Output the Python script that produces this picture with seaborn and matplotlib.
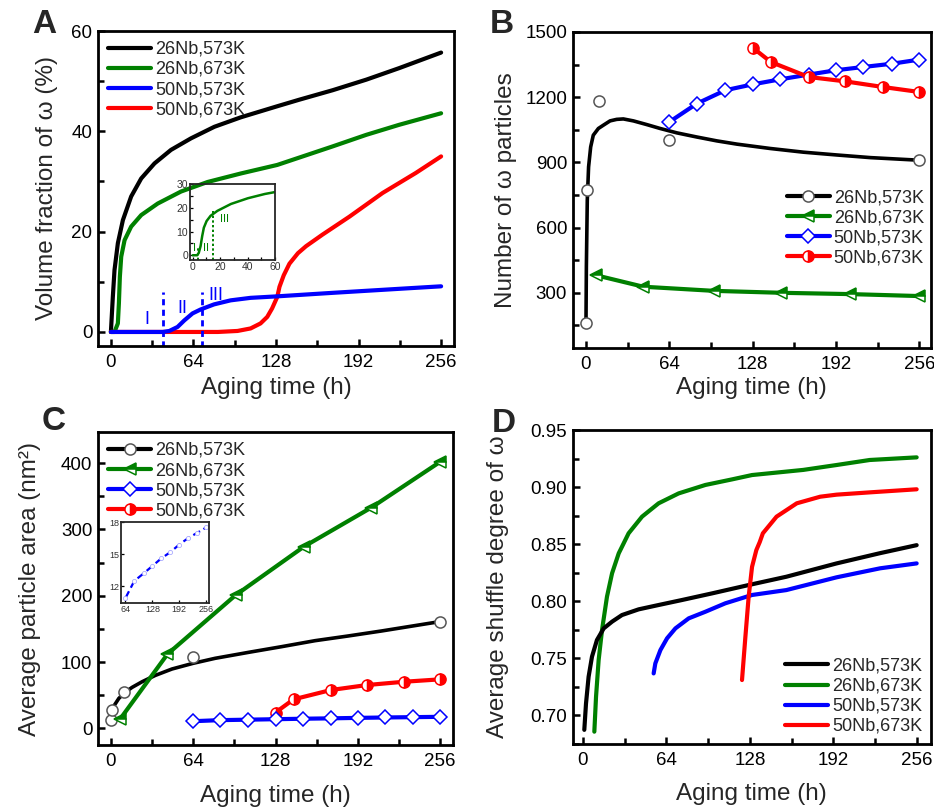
import numpy as np
import pandas as pd
import matplotlib
matplotlib.use("Agg")
import matplotlib.pyplot as plt
from matplotlib.lines import Line2D
from matplotlib.ticker import MultipleLocator, FormatStrFormatter
import seaborn as sns

sns.set_theme(style="ticks")
plt.rcParams["font.family"] = ["Liberation Sans", "DejaVu Sans"]

# ---------------- data ----------------
labels = ["26Nb,573K", "26Nb,673K", "50Nb,573K", "50Nb,673K"]
colors = ["#000000", "#008000", "#0000ff", "#ff0000"]

# (A) volume fraction of omega (%)
a_t_k26_573 = [0, 1.5, 2.8, 5.4, 9.3, 15.7, 23.5, 33.8, 46.6, 62.1, 80.2, 100.8, 129, 146, 172, 198, 223.5, 256]
a_v_k26_573 = [0, 7.0, 12.35, 17.7, 22.3, 27, 30.6, 33.6, 36.3, 38.6, 40.9, 42.8, 45, 46.3, 48.2, 50.3, 52.6, 55.7]
a_t_k26_673 = [0, 2.8, 5.4, 6.2, 6.95, 8.0, 10.6, 15.7, 23.5, 36.3, 54.4, 75, 100.8, 129, 172, 198, 223.5, 256]
a_v_k26_673 = [0, 0, 1.7, 5.7, 11, 15, 18.3, 21, 23.3, 25.6, 28, 29.9, 31.6, 33.3, 37, 39.3, 41.3, 43.6]
a_t_k50_573 = [0, 40.2, 45.3, 51.7, 56.9, 63.3, 69.7, 80, 92.8, 108.3, 129, 172, 223.5, 256]
a_v_k50_573 = [0, 0, 0.2, 1.0, 2.3, 3.7, 4.5, 5.5, 6.3, 6.8, 7.1, 7.8, 8.6, 9.1]
a_t_k50_673 = [0, 83, 98.2, 108.3, 116, 121.2, 125, 129, 130.7, 134, 138.4, 145, 151.3, 164, 185, 210.6, 236.4, 256]
a_v_k50_673 = [0, 0, 0.2, 0.7, 1.7, 3.0, 4.7, 7.0, 9.0, 11.3, 13.6, 15.7, 17.1, 19.4, 23, 27.7, 31.7, 35]
a_stage_x = [40.2, 70.4]
a_stage_top = 8.0
a_stage_text = [(27.8, 2.4, "I"), (55.7, 4.7, "II"), (81.5, 7.2, "III")]

# (A inset) 26Nb,673K early stage
ai_t = [0, 3.2, 4.4, 5.7, 6.9, 8.1, 10.1, 13, 18, 27.9, 40.2, 52.6, 60]
ai_v = [0, 0, 1.0, 3.8, 8.1, 11.6, 14.4, 16.6, 18.7, 21.6, 24, 25.8, 26.6]
ai_stage = [(3.9, 4.0), (14.9, 19.4)]
ai_stage_text = [(1.2, 3.1, "I"), (9.5, 3.0, "II"), (23.2, 15.2, "III")]

# (B) number of omega particles
b_pts_t_k26_573 = [0, 1, 10, 64, 256]
b_pts_v_k26_573 = [159, 775, 1183, 1002, 910]
b_fit_t_k26_573 = [0, 0.3, 1, 2, 3.6, 5.6, 9.5, 13.3, 18.5, 23.6, 28.7, 36.4, 46.7, 57, 69.7, 85,
                   100.5, 116, 141.5, 167, 193, 218.5, 256]
b_fit_v_k26_573 = [159, 420, 726, 879, 971, 1025, 1056, 1071, 1091, 1098, 1100, 1091, 1074, 1056, 1036, 1017,
                   999, 984, 964, 947, 934, 922, 910]
b_t_k26_673 = [7.5, 44, 98, 150, 203, 256]
b_v_k26_673 = [381, 328, 309, 300, 294, 285]
b_t_k50_573 = [64, 85, 107, 128, 149, 171, 192, 213, 235, 256]
b_v_k50_573 = [1086, 1170, 1232, 1259, 1282, 1304, 1324, 1339, 1354, 1373]
b_t_k50_673 = [128, 142, 171, 199, 228, 256]
b_v_k50_673 = [1428, 1362, 1293, 1273, 1247, 1224]

# (C) average particle area (nm^2)
c_pts_t_k26_573 = [0, 1, 10, 64, 256]
c_pts_v_k26_573 = [12, 28, 55, 107, 160]
c_fit_t_k26_573 = [1, 2.3, 6.2, 11.4, 16.5, 24.3, 34.6, 47.5, 63.8, 81, 107, 132.8, 158.7, 184.5, 210.3, 255.6]
c_fit_v_k26_573 = [29, 33.7, 45.3, 54.8, 61.9, 70.4, 80, 89.6, 98.1, 105.7, 114.7, 123.3, 132.3, 139.4, 146.9, 161]
c_t_k26_673 = [7, 44, 97, 150, 202.5, 256]
c_v_k26_673 = [13.6, 112, 201, 274, 333, 402]
c_t_k50_573 = [64, 85, 107, 128, 149, 171, 192, 213, 235, 256]
c_v_k50_573 = [10.9, 12.5, 13.2, 13.9, 14.6, 15.2, 15.9, 16.5, 17.0, 17.5]
c_t_k50_673 = [128, 142, 171, 199, 228, 256]
c_v_k50_673 = [24, 43.8, 57.9, 65.4, 70.4, 74]

# (D) average shuffle degree of omega
d_t_k26_573 = [1.0, 2.3, 4.3, 6.9, 10.7, 15.9, 22.3, 29.9, 42.7, 58, 76, 99, 127, 156, 194.6, 228, 256]
d_v_k26_573 = [0.687, 0.710, 0.7336, 0.7512, 0.7658, 0.776, 0.7819, 0.7877, 0.7927, 0.7965, 0.8009, 0.8067,
               0.814, 0.8213, 0.833, 0.842, 0.849]
d_t_k26_673 = [8.7, 10, 12, 14.6, 18.4, 22.3, 27.4, 35, 45.3, 58, 73.4, 93.9, 114.4, 129.7, 169, 194.6, 220, 256]
d_v_k26_673 = [0.6854, 0.716, 0.7482, 0.7746, 0.8038, 0.8243, 0.8418, 0.8594, 0.874, 0.8857, 0.8944, 0.9018,
               0.9067, 0.9105, 0.915, 0.9193, 0.9237, 0.926]
d_t_k50_573 = [54.2, 55.5, 59.4, 64.5, 70.9, 81.1, 93.9, 109.2, 129.7, 156, 194.6, 228, 256]
d_v_k50_573 = [0.7365, 0.7453, 0.757, 0.7673, 0.776, 0.7848, 0.7906, 0.798, 0.8053, 0.8096, 0.8208, 0.8287, 0.833]
d_t_k50_673 = [122, 124.6, 127.1, 129.7, 133, 135.6, 138, 148.5, 164, 182, 194.6, 220, 256]
d_v_k50_673 = [0.7307, 0.7687, 0.8038, 0.830, 0.8447, 0.8517, 0.8594, 0.874, 0.8857, 0.8915, 0.8933, 0.8953, 0.898]

x_ticks = [0, 64, 128, 192, 256]

# ---------------- figure ----------------
W, H = 934, 810
fig = plt.figure(figsize=(W / 100, H / 100), dpi=100)


def px_axes(x0, y0, x1, y1):
    return fig.add_axes([x0 / W, (H - y1) / H, (x1 - x0) / W, (y1 - y0) / H])


TICK_FS = 13.5
LAB_FS = 17.5
LEG_FS = 13


def style_axes(ax, xlim, ylim, ymajor, yminor):
    ax.set_xlim(*xlim)
    ax.set_ylim(*ylim)
    ax.set_xticks(x_ticks)
    ax.xaxis.set_minor_locator(MultipleLocator(32))
    ax.yaxis.set_major_locator(MultipleLocator(ymajor))
    ax.yaxis.set_minor_locator(MultipleLocator(yminor))
    for s in ax.spines.values():
        s.set_linewidth(2.0)
        s.set_color("black")
    ax.tick_params(which="both", direction="in", top=False, right=False,
                   width=1.8, colors="black")
    ax.tick_params(which="major", length=5, labelsize=TICK_FS)
    ax.tick_params(which="minor", length=4)
    ax.tick_params(axis="x", pad=6)
    ax.tick_params(axis="y", pad=4)
    ax.set_facecolor("white")
    ax.grid(False)


def line(ax, t, v, color, lw=2.6, **kw):
    df = pd.DataFrame({"t": t, "v": v})
    sns.lineplot(data=df, x="t", y="v", ax=ax, color=color, linewidth=lw,
                 sort=False, estimator=None, legend=False, **kw)


marker_style = [
    dict(marker="o", markerfacecolor="white", markeredgecolor="#555555", markersize=8, markeredgewidth=1.1),
    dict(marker="<", markerfacecolor=colors[1], markerfacecoloralt="white", fillstyle="top",
         markeredgecolor=colors[1], markersize=8, markeredgewidth=1.1),
    dict(marker="D", markerfacecolor="white", markeredgecolor=colors[2], markersize=7, markeredgewidth=1.1),
    dict(marker="o", markerfacecolor=colors[3], markerfacecoloralt="white", fillstyle="right",
         markeredgecolor=colors[3], markersize=8, markeredgewidth=1.1),
]


def legend_handles(with_markers, lw=3):
    hs = []
    for i, c in enumerate(colors):
        kw = marker_style[i] if with_markers else {}
        hs.append(Line2D([0], [0], color=c, linewidth=lw, **kw))
    return hs


def set_labels(ax, ylabel, ylx, xly):
    ax.set_xlabel("Aging time (h)", fontsize=LAB_FS)
    ax.set_ylabel(ylabel, fontsize=LAB_FS)
    ax.yaxis.set_label_coords(ylx, 0.5)
    ax.xaxis.set_label_coords(0.5, xly)


LEG_KW = dict(frameon=False, fontsize=LEG_FS, handlelength=2.4, handletextpad=0.2,
              labelspacing=0.17, borderpad=0.4)

# ---------- A ----------
axA = px_axes(98, 31, 454, 346)
style_axes(axA, (-10, 266), (-2.8, 60), 20, 10)
line(axA, a_t_k26_573, a_v_k26_573, colors[0], lw=3)
line(axA, a_t_k26_673, a_v_k26_673, colors[1], lw=3)
line(axA, a_t_k50_673, a_v_k50_673, colors[3], lw=3)
line(axA, a_t_k50_573, a_v_k50_573, colors[2], lw=3)
for xs in a_stage_x:
    axA.plot([xs, xs], [-3, a_stage_top], color=colors[2], linestyle=(0, (2.2, 1.6)), linewidth=2)
for x, y, s in a_stage_text:
    axA.text(x, y, s, color=colors[2], fontsize=13, ha="center", va="center")
set_labels(axA, "Volume fraction of ω (%)", -0.112, -0.098)
axA.legend(legend_handles(False), labels, loc="upper left", bbox_to_anchor=(0.0, 1.0),
           borderaxespad=0.15, **LEG_KW)

# inset of A
axAi = px_axes(190, 184, 275, 260)
axAi.set_facecolor("none")
line(axAi, ai_t, ai_v, colors[1], lw=1.8)
for xs, top in ai_stage:
    axAi.plot([xs, xs], [-2, top], color=colors[1], linestyle=(0, (1.2, 1.2)), linewidth=1.4)
for x, y, s in ai_stage_text:
    axAi.text(x, y, s, color=colors[1], fontsize=8, ha="center", va="center")
axAi.set_xlim(-2, 60)
axAi.set_ylim(-2, 30)
axAi.set_xticks([0, 20, 40, 60])
axAi.set_yticks([0, 10, 20, 30])
axAi.xaxis.set_minor_locator(MultipleLocator(10))
axAi.yaxis.set_minor_locator(MultipleLocator(5))
axAi.tick_params(which="both", direction="in", top=False, right=False, labelsize=7.5,
                 length=2.5, width=0.9, pad=1.5, colors="black")
axAi.tick_params(which="major", labelcolor="#333333")
for s in axAi.spines.values():
    s.set_linewidth(1.3)
axAi.set_xlabel("")
axAi.set_ylabel("")

# ---------- B ----------
axB = px_axes(572.7, 32, 931, 348)
style_axes(axB, (-10.2, 265), (46, 1500), 300, 150)
line(axB, b_fit_t_k26_573, b_fit_v_k26_573, colors[0], lw=2.6)
line(axB, b_pts_t_k26_573, b_pts_v_k26_573, colors[0], lw=0, linestyle="", **marker_style[0])
line(axB, b_t_k26_673, b_v_k26_673, colors[1], lw=3, **marker_style[1])
line(axB, b_t_k50_573, b_v_k50_573, colors[2], lw=3, **marker_style[2])
line(axB, b_t_k50_673, b_v_k50_673, colors[3], lw=3, **marker_style[3])
set_labels(axB, "Number of ω particles", -0.156, -0.092)
axB.legend(legend_handles(True), labels, loc="center right", bbox_to_anchor=(1.0, 0.38),
           borderaxespad=0.0, **LEG_KW)

# ---------- C ----------
axC = px_axes(98, 432, 453, 745)
style_axes(axC, (-10, 266), (-25, 447), 100, 50)
line(axC, c_fit_t_k26_573, c_fit_v_k26_573, colors[0], lw=2.6)
line(axC, c_pts_t_k26_573, c_pts_v_k26_573, colors[0], lw=0, linestyle="", **marker_style[0])
line(axC, c_t_k26_673, c_v_k26_673, colors[1], lw=3, **marker_style[1])
line(axC, c_t_k50_673, c_v_k50_673, colors[3], lw=3, **marker_style[3])
line(axC, c_t_k50_573, c_v_k50_573, colors[2], lw=3, **marker_style[2])
set_labels(axC, "Average particle area (nm²)", -0.16, -0.128)
axC.legend(legend_handles(True), labels, loc="upper left", bbox_to_anchor=(0.0, 1.0),
           borderaxespad=0.15, **LEG_KW)

# inset of C
axCi = px_axes(121, 522, 209, 603)
axCi.set_facecolor("none")
line(axCi, c_t_k50_573, c_v_k50_573, colors[2], lw=1.6, linestyle=(0, (3.5, 1.8)),
     marker="o", markersize=3, markerfacecolor="white", markeredgecolor="#aaaaff",
     markeredgewidth=0.6)
axCi.set_xlim(53.5, 262.5)
axCi.set_ylim(10.45, 18)
axCi.set_xticks(x_ticks[1:])
axCi.set_yticks([12, 15, 18])
axCi.tick_params(which="both", direction="in", top=False, right=False, labelsize=6.5,
                 length=2.5, width=0.9, pad=1.5, colors="black")
axCi.tick_params(which="major", labelcolor="#333333")
for s in axCi.spines.values():
    s.set_linewidth(1.3)
axCi.set_xlabel("")
axCi.set_ylabel("")

# ---------- D ----------
axD = px_axes(572.7, 430, 931, 744)
style_axes(axD, (-7.9, 267), (0.6746, 0.95), 0.05, 0.025)
line(axD, d_t_k26_673, d_v_k26_673, colors[1], lw=3)
line(axD, d_t_k26_573, d_v_k26_573, colors[0], lw=3)
line(axD, d_t_k50_573, d_v_k50_573, colors[2], lw=3)
line(axD, d_t_k50_673, d_v_k50_673, colors[3], lw=3)
axD.yaxis.set_major_formatter(FormatStrFormatter("%.2f"))
set_labels(axD, "Average shuffle degree of ω", -0.178, -0.124)
axD.legend(legend_handles(False), labels, loc="lower right", bbox_to_anchor=(1.0, 0.0),
           borderaxespad=0.1, **LEG_KW)

# panel letters
for x, y, s in [(32, 33, "A"), (490, 33, "B"), (42, 430, "C"), (492, 432, "D")]:
    fig.text(x / W, (H - y) / H, s, fontsize=24, fontweight="bold", ha="left", va="baseline")

fig.savefig("out.png", dpi=100, facecolor="white")
